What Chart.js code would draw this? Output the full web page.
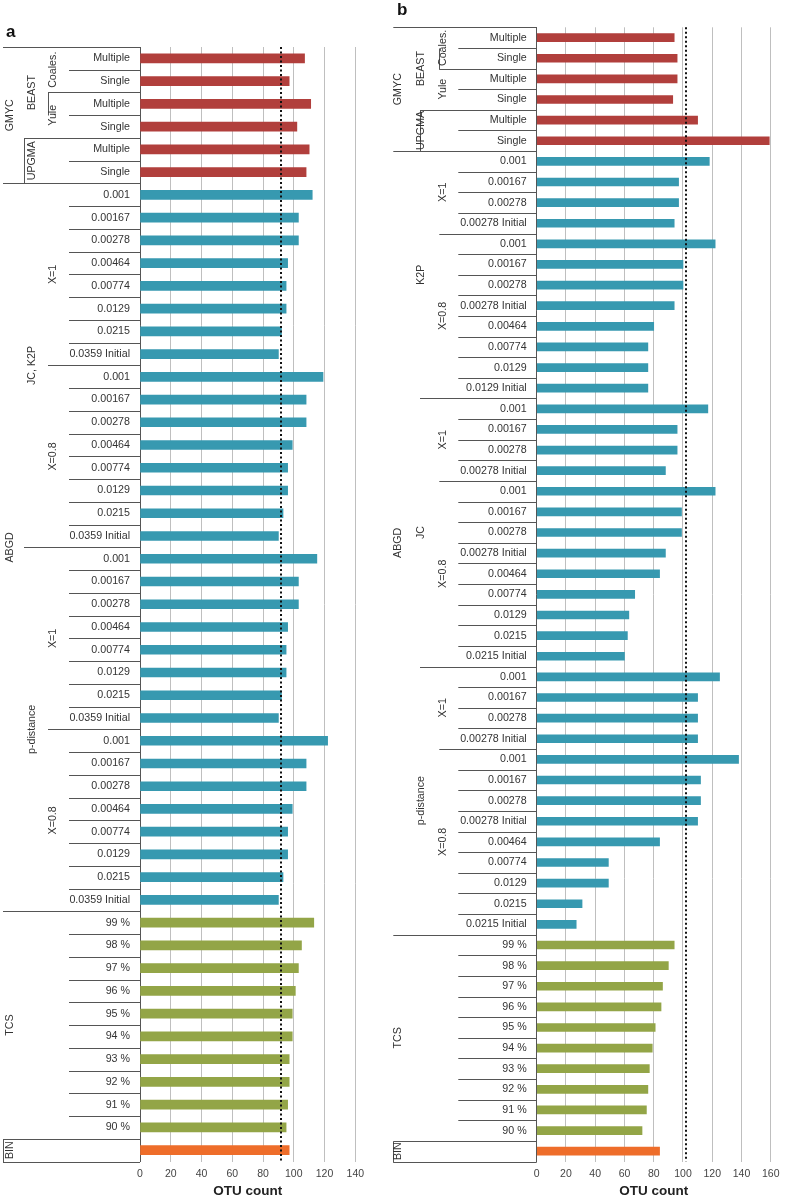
<!DOCTYPE html>
<html>
<head>
<meta charset="utf-8">
<script src="https://cdn.jsdelivr.net/npm/chart.js@4/dist/chart.umd.min.js"></script>
<style>
  body { margin: 0; background: #fff; width: 786px; height: 1199px; position: relative; overflow: hidden; font-family: "Liberation Sans", Arial, sans-serif; }
  canvas { position: absolute; top: 0; }
  #chart-a { left: 0; }
  #chart-b { left: 390px; }
  .tag { position: absolute; font-weight: bold; font-size: 17px; line-height: 17px; color: #111; z-index: 2; }
</style>
</head>
<body>
<canvas id="chart-a" width="390" height="1199"></canvas>
<canvas id="chart-b" width="396" height="1199"></canvas>
<div class="tag" style="left:6px;top:23px">a</div>
<div class="tag" style="left:397px;top:1px">b</div>
<script>
// ---- categories ----
const gmycLabels = ['Multiple', 'Single', 'Multiple', 'Single', 'Multiple', 'Single'];
const thresholdsA = ['0.001', '0.00167', '0.00278', '0.00464', '0.00774', '0.0129', '0.0215', '0.0359 Initial'];
const thresholdsB1 = ['0.001', '0.00167', '0.00278', '0.00278 Initial'];
const thresholdsB2 = ['0.001', '0.00167', '0.00278', '0.00278 Initial', '0.00464', '0.00774', '0.0129', '0.0129 Initial'];
const thresholdsB3 = ['0.001', '0.00167', '0.00278', '0.00278 Initial', '0.00464', '0.00774', '0.0129', '0.0215', '0.0215 Initial'];
const tcsLabels = ['99 %', '98 %', '97 %', '96 %', '95 %', '94 %', '93 %', '92 %', '91 %', '90 %'];

const labelsA = [...gmycLabels, ...thresholdsA, ...thresholdsA, ...thresholdsA, ...thresholdsA, ...tcsLabels, ''];
const labelsB = [...gmycLabels, ...thresholdsB1, ...thresholdsB2, ...thresholdsB1, ...thresholdsB3,
  ...thresholdsB1, ...thresholdsB3, ...tcsLabels, ''];

// ---- values (OTU count) ----
const gmycA = [107, 97, 111, 102, 110, 108];
const abgdA = [112, 103, 103, 96, 95, 95, 92, 90,
  119, 108, 108, 99, 96, 96, 93, 90,
  115, 103, 103, 96, 95, 95, 92, 90,
  122, 108, 108, 99, 96, 96, 93, 90];
const tcsA = [113, 105, 103, 101, 99, 99, 97, 97, 96, 95];
const binA = [97];

const gmycB = [94, 96, 96, 93, 110, 159];
const abgdB = [118, 97, 97, 94,
  122, 100, 100, 94, 80, 76, 76, 76,
  117, 96, 96, 88,
  122, 99, 99, 88, 84, 67, 63, 62, 60,
  125, 110, 110, 110,
  138, 112, 112, 110, 84, 49, 49, 31, 27];
const tcsB = [94, 90, 86, 85, 81, 79, 77, 76, 75, 72];
const binB = [84];

// dotted reference line (morphospecies count)
const refA = 91.5;
const refB = 102;

// ---- category hierarchy: [level, text, first row, last row] ----
const groupsA = [
  [3, 'GMYC', 0, 5], [2, 'BEAST', 0, 3], [1, 'Coales.', 0, 1], [1, 'Yule', 2, 3], [2, 'UPGMA', 4, 5],
  [3, 'ABGD', 6, 37], [2, 'JC, K2P', 6, 21], [1, 'X=1', 6, 13], [1, 'X=0.8', 14, 21],
  [2, 'p-distance', 22, 37], [1, 'X=1', 22, 29], [1, 'X=0.8', 30, 37],
  [3, 'TCS', 38, 47], [3, 'BIN', 48, 48]
];
const groupsB = [
  [3, 'GMYC', 0, 5], [2, 'BEAST', 0, 3], [1, 'Coales.', 0, 1], [1, 'Yule', 2, 3], [2, 'UPGMA', 4, 5],
  [3, 'ABGD', 6, 43], [2, 'K2P', 6, 17], [1, 'X=1', 6, 9], [1, 'X=0.8', 10, 17],
  [2, 'JC', 18, 30], [1, 'X=1', 18, 21], [1, 'X=0.8', 22, 30],
  [2, 'p-distance', 31, 43], [1, 'X=1', 31, 34], [1, 'X=0.8', 35, 43],
  [3, 'TCS', 44, 53], [3, 'BIN', 54, 54]
];
// short vertical strokes Excel leaves in the label area: [level, first row, last row]
const bracketsA = [[1, 2, 2], [2, 4, 5], [3, 48, 48]];
const bracketsB = [[1, 1, 1], [2, 4, 5], [3, 54, 54]];

const methodColors = { GMYC: '#b13f3c', ABGD: '#3799b0', TCS: '#93a547', BIN: '#ee6d2a' };

Chart.defaults.font.family = '"Liberation Sans", Arial, sans-serif';

// draws the multi-level category labels + the dotted reference line
const treeAxis = {
  id: 'treeAxis',
  afterDatasetsDraw(chart, args, o) {
    const { ctx, scales: { x }, chartArea } = chart;
    const xx = Math.round(x.getPixelForValue(o.ref));
    ctx.save();
    ctx.strokeStyle = '#111';
    ctx.lineWidth = 2;
    ctx.setLineDash([2, 2.5]);
    ctx.beginPath();
    ctx.moveTo(xx, chartArea.top);
    ctx.lineTo(xx, chartArea.bottom);
    ctx.stroke();
    ctx.restore();
  },
  afterDraw(chart, args, o) {
    const { ctx, scales: { y }, chartArea } = chart;
    const n = chart.data.labels.length;
    const edge = i => Math.round(y.getPixelForValue(i - 0.5)) + 0.5;

    // which level each row boundary belongs to
    const lvl = new Array(n + 1).fill(0);
    o.groups.forEach(([l, , from, to]) => {
      lvl[from] = Math.max(lvl[from], l);
      lvl[to + 1] = Math.max(lvl[to + 1], l);
    });
    lvl[0] = 3;
    lvl[n] = 3;

    ctx.save();
    ctx.strokeStyle = '#555';
    ctx.lineWidth = 1;
    ctx.beginPath();
    for (let i = 0; i <= n; i++) {
      const yy = edge(i);
      ctx.moveTo(o.sepX[lvl[i]], yy);
      ctx.lineTo(chartArea.left, yy);
    }
    o.brackets.forEach(([l, from, to]) => {
      const xx = Math.round(o.sepX[l]) + 0.5;
      ctx.moveTo(xx, edge(from));
      ctx.lineTo(xx, edge(to + 1));
    });
    ctx.stroke();

    ctx.fillStyle = '#333';
    ctx.font = '10.7px "Liberation Sans", Arial, sans-serif';
    ctx.textAlign = 'center';
    ctx.textBaseline = 'middle';
    o.groups.forEach(([l, text, from, to]) => {
      const cy = (y.getPixelForValue(from) + y.getPixelForValue(to)) / 2;
      ctx.save();
      ctx.translate(o.textX[l], cy);
      ctx.rotate(-Math.PI / 2);
      ctx.fillText(text, 0, 0);
      ctx.restore();
    });
    ctx.restore();
  }
};

function barColors(labels, groups) {
  return labels.map((_, i) => {
    const g = groups.find(([l, , from, to]) => l === 3 && i >= from && i <= to);
    return methodColors[g[1]];
  });
}

function makePanel(id, cfg) {
  new Chart(document.getElementById(id), {
    type: 'bar',
    data: {
      labels: cfg.labels,
      datasets: [{
        data: cfg.values,
        backgroundColor: barColors(cfg.labels, cfg.groups),
        barThickness: cfg.barThickness
      }]
    },
    plugins: [treeAxis],
    options: {
      indexAxis: 'y',
      responsive: false,
      animation: false,
      devicePixelRatio: 1,
      layout: { padding: { top: cfg.top, right: cfg.right, left: 0, bottom: 0 } },
      scales: {
        x: {
          min: 0,
          max: cfg.max,
          ticks: { stepSize: 20, color: '#444', font: { size: 10.5 }, padding: 6.5, maxRotation: 0 },
          grid: { color: '#bfbfbf', drawTicks: false },
          border: { display: false },
          title: { display: true, text: 'OTU count', color: '#222', font: { size: 13.5, weight: 'bold' }, padding: 0 },
          afterFit: s => { s.height = 37.5; }
        },
        y: {
          ticks: { autoSkip: false, padding: 10, color: '#333', font: { size: 10.7 } },
          grid: { display: false, drawTicks: false },
          border: { color: '#555', width: 1 },
          afterFit: s => { s.width = cfg.axisWidth; }
        }
      },
      plugins: {
        legend: { display: false },
        tooltip: { enabled: false },
        treeAxis: { groups: cfg.groups, brackets: cfg.brackets, ref: cfg.ref, sepX: cfg.sepX, textX: cfg.textX }
      }
    }
  });
}

makePanel('chart-a', {
  labels: labelsA,
  values: [...gmycA, ...abgdA, ...tcsA, ...binA],
  groups: groupsA, brackets: bracketsA, ref: refA, max: 140,
  barThickness: 9, top: 47, right: 34.7, axisWidth: 140,
  sepX: [69, 48, 24, 3], textX: [0, 53, 32, 10]
});

makePanel('chart-b', {
  labels: labelsB,
  values: [...gmycB, ...abgdB, ...tcsB, ...binB],
  groups: groupsB, brackets: bracketsB, ref: refB, max: 160,
  barThickness: 8, top: 27.3, right: 11, axisWidth: 146.7,
  sepX: [68.3, 49.3, 30, 3.3], textX: [0, 53, 31, 8]
});
</script>
</body>
</html>
